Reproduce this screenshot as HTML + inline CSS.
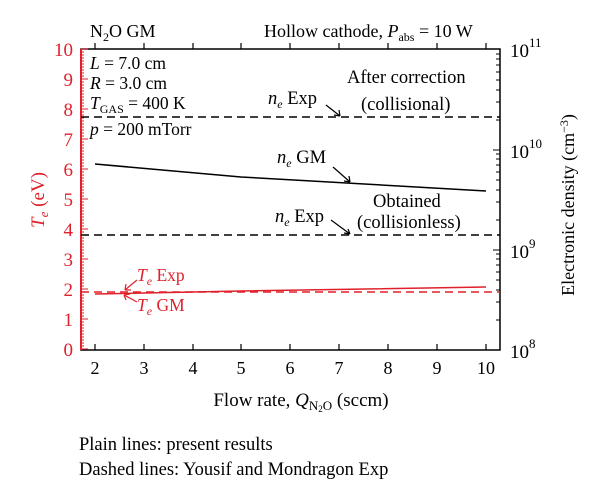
<!DOCTYPE html>
<html><head><meta charset="utf-8"><style>body{margin:0;background:#fff}svg{display:block}text{font-family:"Liberation Serif",serif}</style></head><body>
<svg width="600" height="501" viewBox="0 0 600 501" xmlns="http://www.w3.org/2000/svg">
<g font-size="18">
<text x="90" y="37">N<tspan font-size="12" dy="4">2</tspan><tspan dy="-4">O GM</tspan></text>
<text x="264" y="37">Hollow cathode, <tspan font-style="italic">P</tspan><tspan font-size="12" dy="4">abs</tspan><tspan dy="-4"> = 10 W</tspan></text>
</g>
<rect x="81" y="49" width="419" height="301" fill="none" stroke="#000" stroke-width="1.5"/>
<line x1="81" y1="49" x2="81" y2="350" stroke="#e0202a" stroke-width="2"/>
<g stroke="#000" stroke-width="1.2">
<line x1="95" y1="350" x2="95" y2="344"/><line x1="144" y1="350" x2="144" y2="344"/><line x1="193" y1="350" x2="193" y2="344"/><line x1="241" y1="350" x2="241" y2="344"/><line x1="290" y1="350" x2="290" y2="344"/><line x1="339" y1="350" x2="339" y2="344"/><line x1="388" y1="350" x2="388" y2="344"/><line x1="437" y1="350" x2="437" y2="344"/><line x1="486" y1="350" x2="486" y2="344"/>
<line x1="95" y1="49" x2="95" y2="43"/><line x1="144" y1="49" x2="144" y2="43"/><line x1="193" y1="49" x2="193" y2="43"/><line x1="241" y1="49" x2="241" y2="43"/><line x1="290" y1="49" x2="290" y2="43"/><line x1="339" y1="49" x2="339" y2="43"/><line x1="388" y1="49" x2="388" y2="43"/><line x1="437" y1="49" x2="437" y2="43"/><line x1="486" y1="49" x2="486" y2="43"/>
</g>
<g font-size="18" text-anchor="middle">
<text x="95" y="374">2</text><text x="144" y="374">3</text><text x="193" y="374">4</text><text x="241" y="374">5</text><text x="290" y="374">6</text><text x="339" y="374">7</text><text x="388" y="374">8</text><text x="437" y="374">9</text><text x="486" y="374">10</text>
</g>
<g stroke="#e0202a" stroke-width="1">
<path d="M81 49h7M81 79h7M81 109h7M81 139h7M81 169h7M81 199h7M81 229h7M81 259h7M81 289h7M81 319h7M81 349h7"/>
<path d="M81 52h3M81 55h3M81 58h3M81 61h3M81 64h3M81 67h3M81 70h3M81 73h3M81 76h3M81 82h3M81 85h3M81 88h3M81 91h3M81 94h3M81 97h3M81 100h3M81 103h3M81 106h3M81 112h3M81 115h3M81 118h3M81 121h3M81 124h3M81 127h3M81 130h3M81 133h3M81 136h3M81 142h3M81 145h3M81 148h3M81 151h3M81 154h3M81 157h3M81 160h3M81 163h3M81 166h3M81 172h3M81 175h3M81 178h3M81 181h3M81 184h3M81 187h3M81 190h3M81 193h3M81 196h3M81 202h3M81 205h3M81 208h3M81 211h3M81 214h3M81 217h3M81 220h3M81 223h3M81 226h3M81 232h3M81 235h3M81 238h3M81 241h3M81 244h3M81 247h3M81 250h3M81 253h3M81 256h3M81 262h3M81 265h3M81 268h3M81 271h3M81 274h3M81 277h3M81 280h3M81 283h3M81 286h3M81 292h3M81 295h3M81 298h3M81 301h3M81 304h3M81 307h3M81 310h3M81 313h3M81 316h3M81 322h3M81 325h3M81 328h3M81 331h3M81 334h3M81 337h3M81 340h3M81 343h3M81 346h3"/>
</g>
<g font-size="19" fill="#e0202a" text-anchor="end">
<text x="73" y="56">10</text><text x="73" y="86">9</text><text x="73" y="116">8</text><text x="73" y="146">7</text><text x="73" y="176">6</text><text x="73" y="206">5</text><text x="73" y="236">4</text><text x="73" y="266">3</text><text x="73" y="296">2</text><text x="73" y="326">1</text><text x="73" y="356">0</text>
</g>
<text transform="translate(44,200) rotate(-90)" font-size="19" fill="#e0202a" text-anchor="middle"><tspan font-style="italic">T</tspan><tspan font-style="italic" font-size="13" dy="4">e</tspan><tspan dy="-4"> (eV)</tspan></text>
<g stroke="#000" stroke-width="1">
<path d="M500 49h-7M500 150h-7M500 250h-7M500 350h-7"/>
<path d="M500 320h-4M500 302h-4M500 290h-4M500 280h-4M500 272h-4M500 265h-4M500 259h-4M500 254h-4M500 220h-4M500 202h-4M500 190h-4M500 180h-4M500 172h-4M500 165h-4M500 159h-4M500 154h-4M500 120h-4M500 102h-4M500 90h-4M500 80h-4M500 72h-4M500 65h-4M500 59h-4M500 54h-4"/>
</g>
<g font-size="19">
<text x="510" y="57">10<tspan font-size="13" dy="-10">11</tspan></text>
<text x="510" y="158">10<tspan font-size="13" dy="-10">10</tspan></text>
<text x="510" y="258">10<tspan font-size="13" dy="-10">9</tspan></text>
<text x="510" y="358">10<tspan font-size="13" dy="-10">8</tspan></text>
</g>
<text transform="translate(574,205) rotate(-90)" font-size="18" text-anchor="middle">Electronic density (cm<tspan font-size="12" dy="-6">−3</tspan><tspan dy="6">)</tspan></text>
<line x1="81" y1="117" x2="500" y2="117" stroke="#000" stroke-width="1.5" stroke-dasharray="8,5"/>
<line x1="81" y1="235" x2="500" y2="235" stroke="#000" stroke-width="1.5" stroke-dasharray="8,5"/>
<polyline points="95,164 241,177 486,191" fill="none" stroke="#000" stroke-width="1.5"/>
<line x1="81" y1="292" x2="500" y2="292" stroke="#e0202a" stroke-width="1.5" stroke-dasharray="8,5"/>
<polyline points="95,294 241,291 486,287" fill="none" stroke="#e0202a" stroke-width="1.5"/>
<g font-size="17.5">
<text x="90" y="69"><tspan font-style="italic">L</tspan> = 7.0 cm</text>
<text x="90" y="89"><tspan font-style="italic">R</tspan> = 3.0 cm</text>
<text x="90" y="109"><tspan font-style="italic">T</tspan><tspan font-size="12" dy="4">GAS</tspan><tspan dy="-4"> = 400 K</tspan></text>
<text x="90" y="135"><tspan font-style="italic">p</tspan> = 200 mTorr</text>
</g>
<g font-size="18.5">
<text x="347" y="83">After correction</text>
<text x="361" y="110">(collisional)</text>
<text x="268" y="104"><tspan font-style="italic">n</tspan><tspan font-style="italic" font-size="12" dy="4">e</tspan><tspan dy="-4"> Exp</tspan></text>
<text x="277" y="163"><tspan font-style="italic">n</tspan><tspan font-style="italic" font-size="12" dy="4">e</tspan><tspan dy="-4"> GM</tspan></text>
<text x="373" y="207">Obtained</text>
<text x="357" y="228">(collisionless)</text>
<text x="275" y="222"><tspan font-style="italic">n</tspan><tspan font-style="italic" font-size="12" dy="4">e</tspan><tspan dy="-4"> Exp</tspan></text>
</g>
<g stroke="#000" stroke-width="1.2" fill="none">
<path d="M326 105L340 116M340 116l-6-1M340 116l-1-6"/>
<path d="M333 167L350 182M350 182l-6-1M350 182l-1-6"/>
<path d="M331 220L350 234M350 234l-6-1M350 234l-2-5"/>
</g>
<g font-size="17.5" fill="#e0202a">
<text x="137" y="281"><tspan font-style="italic">T</tspan><tspan font-style="italic" font-size="12" dy="4">e</tspan><tspan dy="-4"> Exp</tspan></text>
<text x="137" y="311"><tspan font-style="italic">T</tspan><tspan font-style="italic" font-size="12" dy="4">e</tspan><tspan dy="-4"> GM</tspan></text>
</g>
<g stroke="#e0202a" stroke-width="1.2" fill="none">
<path d="M137 280L125 290M125 290l6 0M125 290l1-6"/>
<path d="M137 302L124 295M124 295l6-1M124 295l2 5"/>
</g>
<text x="301" y="406" font-size="19" text-anchor="middle">Flow rate, <tspan font-style="italic">Q</tspan><tspan font-size="13" dy="4">N</tspan><tspan font-size="9" dy="2">2</tspan><tspan font-size="13" dy="-2">O</tspan><tspan dy="-4"> (sccm)</tspan></text>
<text x="79" y="450" font-size="18.5">Plain lines: present results</text>
<text x="79" y="475" font-size="18.5">Dashed lines: Yousif and Mondragon Exp</text>
</svg>
</body></html>
